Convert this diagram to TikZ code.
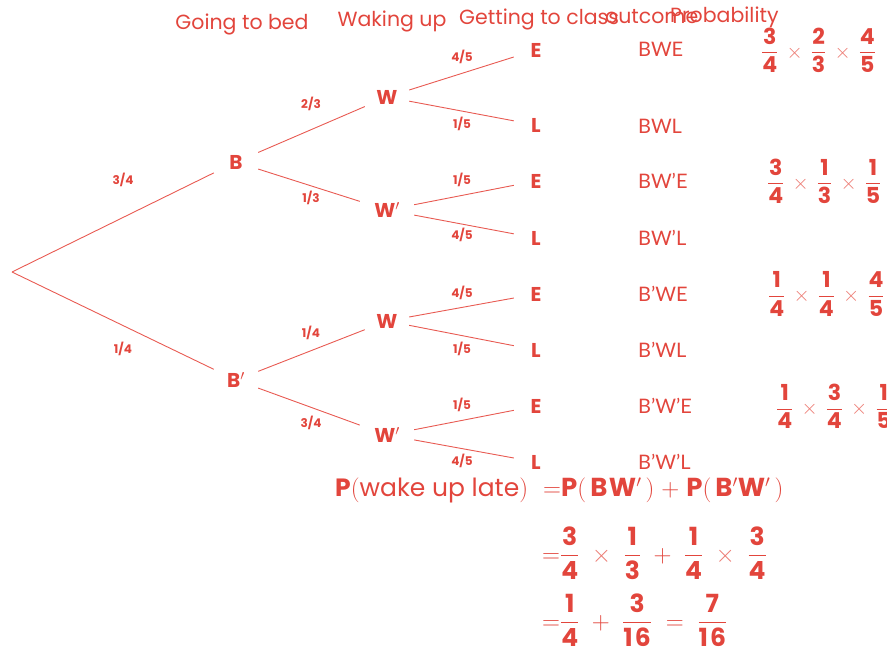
\documentclass[tikz,border=0pt]{standalone}
\usepackage{amsmath}
\usepackage{fontspec}
\setmainfont{Poppins}
\newfontfamily\outfont{Lato}
\definecolor{rd}{HTML}{E2453C}
\definecolor{ln}{HTML}{E85A52}
\definecolor{lt}{HTML}{EC7A72}
\newcommand\fr[2]{\dfrac{\mbox{\bfseries #1}}{\mbox{\bfseries #2}}}
\newcommand\tm{\mathbin{\;{\color{lt}\times}\;}}
\newcommand\tms{\mathbin{\,{\color{lt}\times}\,}}
\newcommand\pl{\mathbin{\;+\;}}
\newcommand\bb[1]{{\addfontfeature{LetterSpace=6}\fontsize{26}{28}\selectfont\bfseries #1}}
\begin{document}
\begin{tikzpicture}[x=1pt,y=-1pt,
  every node/.style={text=rd},
  head/.style={font=\fontsize{20.5}{22}\selectfont, inner sep=0pt},
  letter/.style={font=\fontsize{20}{22}\selectfont\bfseries, inner sep=0pt, minimum width=44pt, minimum height=26pt},
  letterp/.style={letter, minimum width=54pt},
  plab/.style={font=\fontsize{12}{13}\selectfont\bfseries, inner sep=0pt},
  outc/.style={font=\fontsize{20}{22}\selectfont\outfont, anchor=west, inner sep=0pt},
  prob/.style={font=\fontsize{22}{26}\selectfont, inner sep=0pt, anchor=west},
  eqn/.style={font=\fontsize{25}{28}\selectfont, inner sep=0pt, anchor=west},
  branch/.style={draw=ln, line width=0.9pt}]
\useasboundingbox (0,0) rectangle (887,653);

% headings
\node[head, anchor=base] (h1) at (242,29) {Going to bed};
\node[head, anchor=base] (h2) at (392,26.5) {Waking up};
\node[head, anchor=base west] (h3) at (459,24.5) {Getting to class};
\node[head, anchor=base west] (h4) at (605,23.5) {outcome};
\node[head, anchor=base west] (h5) at (670,23) {Probability};

% tree
\coordinate (r) at (12,272);
\node[letter] (B) at (236,162) {B};
\node[letter] (Bp) at (236,380) {B$'$};
\node[letter] (W1) at (387,97) {W};
\node[letterp] (W2) at (387,210) {W$'$};
\node[letter] (W3) at (387,321) {W};
\node[letterp] (W4) at (387,435) {W$'$};
\node[letter] (E1) at (536,50) {E};
\node[letter] (L1) at (536,125) {L};
\node[letter] (E2) at (536,181) {E};
\node[letter] (L2) at (536,238) {L};
\node[letter] (E3) at (536,294) {E};
\node[letter] (L3) at (536,350) {L};
\node[letter] (E4) at (536,406) {E};
\node[letter] (L4) at (536,462) {L};

\draw[branch] (r) -- (B);
\draw[branch] (r) -- (Bp);
\draw[branch] (B) -- (W1);
\draw[branch] (B) -- (W2);
\draw[branch] (Bp) -- (W3);
\draw[branch] (Bp) -- (W4);
\draw[branch] (W1) -- (E1);
\draw[branch] (W1) -- (L1);
\draw[branch] (W2) -- (E2);
\draw[branch] (W2) -- (L2);
\draw[branch] (W3) -- (E3);
\draw[branch] (W3) -- (L3);
\draw[branch] (W4) -- (E4);
\draw[branch] (W4) -- (L4);

% branch labels
\node[plab] (p1) at (123,180) {3/4};
\node[plab] (p2) at (123,349) {1/4};
\node[plab] (p3) at (311,104) {2/3};
\node[plab] (p4) at (311,198) {1/3};
\node[plab] (p5) at (311,333) {1/4};
\node[plab] (p6) at (311,423) {3/4};
\node[plab] (p7) at (462,57) {4/5};
\node[plab] (p8) at (462,124) {1/5};
\node[plab] (p9) at (462,180) {1/5};
\node[plab] (p10) at (462,235) {4/5};
\node[plab] (p11) at (462,293) {4/5};
\node[plab] (p12) at (462,349) {1/5};
\node[plab] (p13) at (462,405) {1/5};
\node[plab] (p14) at (462,461) {4/5};

% outcomes
\node[outc] (o1) at (638,49) {BWE};
\node[outc] (o2) at (638,126) {BWL};
\node[outc] (o3) at (638,181) {BW’E};
\node[outc] (o4) at (638,238) {BW’L};
\node[outc] (o5) at (638,294) {B’WE};
\node[outc] (o6) at (638,350) {B’WL};
\node[outc] (o7) at (638,406) {B’W’E};
\node[outc] (o8) at (638,462) {B’W’L};

% probabilities
\node[prob] (q1) at (761,50) {$\fr34\tms\fr23\tms\fr45$};
\node[prob] (q2) at (767,181) {$\fr34\tms\fr13\tms\fr15$};
\node[prob] (q3) at (768,294) {$\fr14\tms\fr14\tms\fr45$};
\node[prob] (q4) at (776,406) {$\fr14\tms\fr34\tms\fr15$};

% equation
\node[eqn] (e1) at (335,490) {\textbf{P}$($wake up late$)$};
\node[eqn] (e1b) at (543,490) {${=}$\bb{P}$(\,$\bb{BW}$'\,)\pl$\bb{P}$(\,$\bb{B}$'$\bb{W}$'\,)$};
\node[eqn] (e2) at (542,553) {${=}\fr34\tm\fr13\pl\fr14\tm\fr34$};
\node[eqn] (e3) at (542,620) {${=}\fr14\pl\fr{3}{1\kern2pt 6}\mathrel{\;=\;}\fr{7}{1\kern2pt 6}$};
\end{tikzpicture}
\end{document}
